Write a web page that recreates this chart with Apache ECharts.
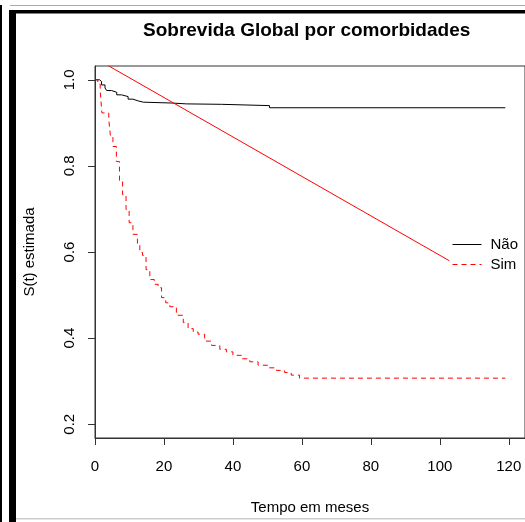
<!DOCTYPE html>
<html>
<head>
<meta charset="utf-8">
<script src="https://cdn.jsdelivr.net/npm/echarts@6/dist/echarts.min.js"></script>
<style>
  html, body { margin: 0; padding: 0; background: #fff; }
  #chart { width: 525px; height: 522px; }
</style>
</head>
<body>
<div id="chart"></div>
<script>
// Kaplan-Meier curves (time in months, estimated S(t))
const naoTimes = [0, 1.3, 1.9, 2.9, 3.4, 4.8, 6.3, 7.7, 9.6, 11, 12.5, 14, 22.2, 26.5, 36.7, 50.6, 119];
const naoSurv = [1.0, 0.996, 0.988, 0.981, 0.975, 0.971, 0.965, 0.961, 0.955, 0.951, 0.948, 0.946, 0.944, 0.943, 0.94, 0.935, 0.935];

const simTimes = [0, 0.8, 1.5, 2.0, 4.0, 4.5, 5.2, 6.2, 7.1, 8.0, 9.0, 9.9, 11, 12.3, 13, 13.8, 14.8, 15.9, 17.2,
  18.3, 19.3, 20.5, 21.7, 23.6, 25.6, 27, 28.5, 29.9, 31.8, 33.8, 36.2, 38.1, 40, 42.5, 44.9, 47.3,
  50.2, 52.6, 55, 56.9, 59.3, 119];
const simSurv = [1.0, 0.99, 0.975, 0.923, 0.907, 0.868, 0.845, 0.81, 0.764, 0.733, 0.699, 0.668, 0.641, 0.62, 0.599, 0.592, 0.559, 0.536, 0.525,
  0.517, 0.494, 0.482, 0.473, 0.453, 0.436, 0.422, 0.414, 0.409, 0.393, 0.383, 0.374, 0.368, 0.36, 0.352, 0.345, 0.337,
  0.331, 0.325, 0.32, 0.314, 0.307, 0.307];

// stray red straight line crossing the plot
const redLineTimes = [3.8, 102.7];
const redLineVals = [1.033, 0.58];

const xTicks = [0, 20, 40, 60, 80, 100, 120];
const yTicks = [0.2, 0.4, 0.6, 0.8, 1.0];
const groups = ["Não", "Sim"];

const zip = (a, b) => a.map((v, i) => [v, b[i]]);
const font = "Liberation Sans, Arial, sans-serif";

const chart = echarts.init(document.getElementById("chart"));

chart.setOption({
  animation: false,
  backgroundColor: "#fff",
  title: {
    text: "Sobrevida Global por comorbidades",
    left: 138,
    top: 16,
    textStyle: { fontFamily: font, fontSize: 19, fontWeight: "bold", color: "#000" },
  },
  legend: {
    data: groups,
    orient: "vertical",
    left: 447,
    top: 232,
    itemWidth: 29,
    itemHeight: 14,
    itemGap: 5,
    itemStyle: { opacity: 0 },
    lineStyle: { width: 1 },
    textStyle: { fontFamily: font, fontSize: 15, color: "#000", padding: [0, 0, 0, 4] },
  },
  grid: {
    left: 95,
    top: 66,
    right: -1,
    bottom: 84,
    show: true,
    borderColor: "#333",
    borderWidth: 1,
  },
  xAxis: {
    type: "value",
    min: 0,
    max: 124.7,
    name: "Tempo em meses",
    nameLocation: "middle",
    nameGap: 62,
    nameTextStyle: { fontFamily: font, fontSize: 15, color: "#000" },
    splitLine: { show: false },
    axisLine: { onZero: false, lineStyle: { color: "#333" } },
    axisTick: { customValues: xTicks, length: 7, lineStyle: { color: "#333" } },
    axisLabel: {
      customValues: xTicks,
      margin: 21,
      fontFamily: font,
      fontSize: 15,
      color: "#000",
    },
  },
  yAxis: {
    type: "value",
    min: 0.168,
    max: 1.032,
    name: "S(t) estimada",
    nameLocation: "middle",
    nameGap: 58,
    nameTextStyle: { fontFamily: font, fontSize: 15, color: "#000" },
    splitLine: { show: false },
    axisLine: { show: true, lineStyle: { color: "#333" } },
    axisTick: { show: true, customValues: yTicks, length: 7, lineStyle: { color: "#333" } },
    axisLabel: {
      customValues: yTicks,
      rotate: 90,
      margin: 18,
      fontFamily: font,
      fontSize: 15,
      color: "#000",
      formatter: (v) => v.toFixed(1),
    },
  },
  series: [
    {
      name: "Não",
      type: "line",
      step: "end",
      symbol: "none",
      data: zip(naoTimes, naoSurv),
      lineStyle: { color: "#000", width: 1 },
      itemStyle: { color: "#000" },
    },
    {
      name: "Sim",
      type: "line",
      step: "end",
      symbol: "none",
      data: zip(simTimes, simSurv),
      lineStyle: { color: "#ff0000", width: 1, type: [5, 4] },
      itemStyle: { color: "#ff0000" },
    },
    {
      name: "linha",
      type: "line",
      symbol: "none",
      data: zip(redLineTimes, redLineVals),
      lineStyle: { color: "#ff0000", width: 1 },
      itemStyle: { color: "#ff0000" },
    },
  ],
  graphic: [
    // screenshot frame around the figure
    { type: "rect", left: 0, top: 5, shape: { width: 2, height: 517 }, style: { fill: "#000" } },
    { type: "rect", left: 9, top: 10, shape: { width: 7, height: 512 }, style: { fill: "#000" } },
    { type: "rect", left: 9, top: 10, shape: { width: 516, height: 3.5 }, style: { fill: "#000" } },
    { type: "rect", left: 10, top: 5, shape: { width: 515, height: 1 }, style: { fill: "#aaa" } },
    { type: "rect", left: 16, top: 518, shape: { width: 509, height: 1.5 }, style: { fill: "#ccc" } },
  ],
});
</script>
</body>
</html>
